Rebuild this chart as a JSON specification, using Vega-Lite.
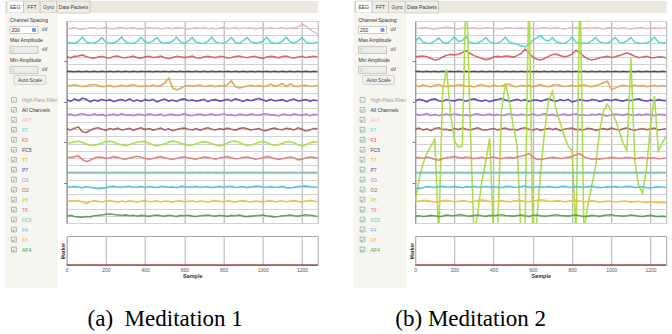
{
"$schema":"https://vega.github.io/schema/vega-lite/v6.json",
"padding":{"left":5,"top":0,"right":0,"bottom":0},
"background":"#ffffff",
"config":{"view":{"stroke":null},"font":"Liberation Sans","axis":{"labelFont":"Liberation Sans","titleFont":"Liberation Sans"}},
"datasets":{
"side":[
{"item":"cs","role":"label","text":"Channel Spacing"},
{"item":"max","role":"label","text":"Max Amplitude"},
{"item":"min","role":"label","text":"Min Amplitude"},
{"item":"csBox","role":"box","state":"on","text":"200"},
{"item":"maxBox","role":"box","state":"off","text":"0"},
{"item":"minBox","role":"box","state":"off","text":"0"},
{"item":"auto","role":"button","text":"Auto Scale"},
{"item":"hpf","role":"check","state":"off","text":"High-Pass Filter"},
{"item":"all","role":"check","state":"on","text":"All Channels"},
{"item":"AF3","role":"channel","ch":"AF3"},{"item":"F7","role":"channel","ch":"F7"},{"item":"F3","role":"channel","ch":"F3"},{"item":"FC5","role":"channel","ch":"FC5"},{"item":"T7","role":"channel","ch":"T7"},{"item":"P7","role":"channel","ch":"P7"},{"item":"O1","role":"channel","ch":"O1"},{"item":"O2","role":"channel","ch":"O2"},{"item":"P8","role":"channel","ch":"P8"},{"item":"T8","role":"channel","ch":"T8"},{"item":"FC6","role":"channel","ch":"FC6"},{"item":"F4","role":"channel","ch":"F4"},{"item":"F8","role":"channel","ch":"F8"},{"item":"AF4","role":"channel","ch":"AF4"}
],
"tabs":[
{"tab":"EEG","from":"e0","to":"t1","sel":true},
{"tab":"FFT","from":"t1","to":"t2","sel":false},
{"tab":"Gyro","from":"t2","to":"t3","sel":false},
{"tab":"Data Packets","from":"t3","to":"e9","sel":false}
],
"marker":[{"x":0,"m":0},{"x":1280,"m":0}],
"eegA":[
{"x":0,"AF3":2703,"F7":2495,"F3":2305,"FC5":2100,"T7":1892,"P7":1710,"O1":1495,"O2":1305,"P8":1100,"T8":900,"FC6":702,"F4":505,"F8":295,"AF4":95},
{"x":20,"AF3":2695,"F7":2500,"F3":2290,"FC5":2103,"T7":1905,"P7":1685,"O1":1508,"O2":1290,"P8":1112,"T8":910,"FC6":698,"F4":495,"F8":310,"AF4":105},
{"x":40,"AF3":2708,"F7":2490,"F3":2310,"FC5":2097,"T7":1915,"P7":1720,"O1":1488,"O2":1315,"P8":1125,"T8":920,"FC6":702,"F4":508,"F8":305,"AF4":90},
{"x":60,"AF3":2690,"F7":2520,"F3":2315,"FC5":2103,"T7":1905,"P7":1695,"O1":1505,"O2":1330,"P8":1132,"T8":930,"FC6":698,"F4":500,"F8":315,"AF4":85},
{"x":80,"AF3":2685,"F7":2575,"F3":2330,"FC5":2097,"T7":1890,"P7":1730,"O1":1515,"O2":1265,"P8":1118,"T8":880,"FC6":702,"F4":490,"F8":290,"AF4":80},
{"x":100,"AF3":2695,"F7":2510,"F3":2305,"FC5":2103,"T7":1900,"P7":1715,"O1":1500,"O2":1255,"P8":1095,"T8":850,"FC6":698,"F4":505,"F8":270,"AF4":90},
{"x":120,"AF3":2710,"F7":2492,"F3":2290,"FC5":2097,"T7":1912,"P7":1680,"O1":1490,"O2":1285,"P8":1078,"T8":870,"FC6":702,"F4":495,"F8":295,"AF4":85},
{"x":140,"AF3":2705,"F7":2495,"F3":2285,"FC5":2103,"T7":1920,"P7":1705,"O1":1512,"O2":1310,"P8":1075,"T8":900,"FC6":698,"F4":485,"F8":310,"AF4":100},
{"x":160,"AF3":2692,"F7":2520,"F3":2300,"FC5":2097,"T7":1905,"P7":1690,"O1":1495,"O2":1320,"P8":1092,"T8":915,"FC6":702,"F4":475,"F8":300,"AF4":105},
{"x":180,"AF3":2700,"F7":2570,"F3":2310,"FC5":2103,"T7":1890,"P7":1715,"O1":1505,"O2":1300,"P8":1110,"T8":910,"FC6":698,"F4":480,"F8":292,"AF4":110},
{"x":200,"AF3":2712,"F7":2505,"F3":2295,"FC5":2097,"T7":1895,"P7":1695,"O1":1485,"O2":1285,"P8":1128,"T8":895,"FC6":702,"F4":490,"F8":305,"AF4":122},
{"x":220,"AF3":2697,"F7":2490,"F3":2288,"FC5":2103,"T7":1908,"P7":1710,"O1":1500,"O2":1310,"P8":1135,"T8":905,"FC6":698,"F4":505,"F8":312,"AF4":125},
{"x":240,"AF3":2690,"F7":2497,"F3":2308,"FC5":2097,"T7":1888,"P7":1682,"O1":1510,"O2":1295,"P8":1120,"T8":920,"FC6":702,"F4":510,"F8":300,"AF4":118},
{"x":260,"AF3":2705,"F7":2522,"F3":2315,"FC5":2103,"T7":1900,"P7":1700,"O1":1492,"O2":1315,"P8":1098,"T8":910,"FC6":698,"F4":500,"F8":290,"AF4":110},
{"x":280,"AF3":2708,"F7":2578,"F3":2295,"FC5":2097,"T7":1910,"P7":1712,"O1":1515,"O2":1290,"P8":1085,"T8":890,"FC6":702,"F4":492,"F8":305,"AF4":105},
{"x":300,"AF3":2695,"F7":2508,"F3":2290,"FC5":2103,"T7":1895,"P7":1692,"O1":1495,"O2":1300,"P8":1072,"T8":885,"FC6":698,"F4":505,"F8":295,"AF4":112},
{"x":320,"AF3":2700,"F7":2494,"F3":2300,"FC5":2097,"T7":1905,"P7":1720,"O1":1500,"O2":1312,"P8":1085,"T8":900,"FC6":702,"F4":510,"F8":308,"AF4":100},
{"x":340,"AF3":2710,"F7":2490,"F3":2312,"FC5":2103,"T7":1915,"P7":1688,"O1":1488,"O2":1285,"P8":1105,"T8":915,"FC6":698,"F4":495,"F8":300,"AF4":108},
{"x":360,"AF3":2694,"F7":2518,"F3":2292,"FC5":2097,"T7":1900,"P7":1705,"O1":1508,"O2":1305,"P8":1122,"T8":925,"FC6":702,"F4":500,"F8":288,"AF4":95},
{"x":380,"AF3":2688,"F7":2572,"F3":2285,"FC5":2103,"T7":1890,"P7":1685,"O1":1505,"O2":1320,"P8":1130,"T8":910,"FC6":698,"F4":508,"F8":305,"AF4":105},
{"x":400,"AF3":2702,"F7":2512,"F3":2305,"FC5":2097,"T7":1905,"P7":1710,"O1":1490,"O2":1295,"P8":1125,"T8":895,"FC6":702,"F4":490,"F8":310,"AF4":100},
{"x":420,"AF3":2708,"F7":2495,"F3":2310,"FC5":2103,"T7":1892,"P7":1695,"O1":1512,"O2":1310,"P8":1105,"T8":885,"FC6":698,"F4":505,"F8":295,"AF4":92},
{"x":440,"AF3":2696,"F7":2525,"F3":2295,"FC5":2097,"T7":1910,"P7":1715,"O1":1500,"O2":1288,"P8":1085,"T8":895,"FC6":702,"F4":500,"F8":300,"AF4":105},
{"x":460,"AF3":2706,"F7":2570,"F3":2300,"FC5":2103,"T7":1895,"P7":1680,"O1":1495,"O2":1300,"P8":1068,"T8":910,"FC6":698,"F4":492,"F8":308,"AF4":110},
{"x":480,"AF3":2690,"F7":2505,"F3":2315,"FC5":2097,"T7":1905,"P7":1700,"O1":1510,"O2":1315,"P8":1080,"T8":920,"FC6":702,"F4":510,"F8":292,"AF4":100},
{"x":500,"AF3":2700,"F7":2492,"F3":2290,"FC5":2103,"T7":1940,"P7":1718,"O1":1485,"O2":1290,"P8":1100,"T8":905,"FC6":698,"F4":505,"F8":305,"AF4":95},
{"x":520,"AF3":2705,"F7":2500,"F3":2280,"FC5":2097,"T7":2010,"P7":1690,"O1":1505,"O2":1305,"P8":1120,"T8":890,"FC6":702,"F4":495,"F8":300,"AF4":108},
{"x":540,"AF3":2692,"F7":2520,"F3":2295,"FC5":2103,"T7":1870,"P7":1705,"O1":1508,"O2":1280,"P8":1135,"T8":880,"FC6":698,"F4":500,"F8":290,"AF4":100},
{"x":560,"AF3":2710,"F7":2576,"F3":2310,"FC5":2097,"T7":1845,"P7":1685,"O1":1492,"O2":1295,"P8":1125,"T8":895,"FC6":702,"F4":488,"F8":305,"AF4":90},
{"x":580,"AF3":2703,"F7":2510,"F3":2305,"FC5":2103,"T7":1865,"P7":1710,"O1":1500,"O2":1310,"P8":1105,"T8":910,"FC6":698,"F4":505,"F8":310,"AF4":105},
{"x":600,"AF3":2695,"F7":2490,"F3":2292,"FC5":2097,"T7":1895,"P7":1720,"O1":1515,"O2":1315,"P8":1090,"T8":915,"FC6":702,"F4":508,"F8":295,"AF4":100},
{"x":620,"AF3":2688,"F7":2522,"F3":2300,"FC5":2103,"T7":1910,"P7":1695,"O1":1495,"O2":1300,"P8":1075,"T8":905,"FC6":698,"F4":495,"F8":300,"AF4":108},
{"x":640,"AF3":2700,"F7":2568,"F3":2312,"FC5":2097,"T7":1895,"P7":1708,"O1":1488,"O2":1290,"P8":1080,"T8":892,"FC6":702,"F4":500,"F8":308,"AF4":95},
{"x":660,"AF3":2706,"F7":2506,"F3":2290,"FC5":2103,"T7":1905,"P7":1688,"O1":1505,"O2":1308,"P8":1100,"T8":885,"FC6":698,"F4":510,"F8":292,"AF4":90},
{"x":680,"AF3":2697,"F7":2495,"F3":2285,"FC5":2097,"T7":1912,"P7":1700,"O1":1510,"O2":1285,"P8":1115,"T8":900,"FC6":702,"F4":492,"F8":305,"AF4":100},
{"x":700,"AF3":2709,"F7":2490,"F3":2305,"FC5":2103,"T7":1892,"P7":1715,"O1":1492,"O2":1305,"P8":1128,"T8":915,"FC6":698,"F4":500,"F8":300,"AF4":105},
{"x":720,"AF3":2693,"F7":2518,"F3":2310,"FC5":2097,"T7":1900,"P7":1682,"O1":1500,"O2":1320,"P8":1120,"T8":910,"FC6":702,"F4":505,"F8":288,"AF4":110},
{"x":740,"AF3":2702,"F7":2574,"F3":2300,"FC5":2103,"T7":1908,"P7":1705,"O1":1512,"O2":1300,"P8":1100,"T8":895,"FC6":698,"F4":490,"F8":305,"AF4":100},
{"x":760,"AF3":2690,"F7":2508,"F3":2292,"FC5":2097,"T7":1890,"P7":1710,"O1":1490,"O2":1290,"P8":1080,"T8":885,"FC6":702,"F4":500,"F8":310,"AF4":95},
{"x":780,"AF3":2704,"F7":2496,"F3":2312,"FC5":2103,"T7":1905,"P7":1690,"O1":1505,"O2":1310,"P8":1070,"T8":900,"FC6":698,"F4":508,"F8":300,"AF4":108},
{"x":800,"AF3":2708,"F7":2492,"F3":2305,"FC5":2097,"T7":1895,"P7":1700,"O1":1515,"O2":1295,"P8":1085,"T8":912,"FC6":702,"F4":495,"F8":295,"AF4":100},
{"x":820,"AF3":2695,"F7":2520,"F3":2288,"FC5":2103,"T7":1915,"P7":1715,"O1":1495,"O2":1315,"P8":1110,"T8":920,"FC6":698,"F4":505,"F8":308,"AF4":92},
{"x":840,"AF3":2700,"F7":2572,"F3":2295,"FC5":2097,"T7":1970,"P7":1692,"O1":1500,"O2":1300,"P8":1130,"T8":905,"FC6":702,"F4":510,"F8":300,"AF4":105},
{"x":860,"AF3":2710,"F7":2505,"F3":2308,"FC5":2103,"T7":1890,"P7":1720,"O1":1488,"O2":1288,"P8":1135,"T8":890,"FC6":698,"F4":492,"F8":290,"AF4":100},
{"x":880,"AF3":2692,"F7":2490,"F3":2315,"FC5":2097,"T7":1872,"P7":1705,"O1":1508,"O2":1308,"P8":1115,"T8":895,"FC6":702,"F4":500,"F8":305,"AF4":110},
{"x":900,"AF3":2703,"F7":2524,"F3":2300,"FC5":2103,"T7":1885,"P7":1685,"O1":1505,"O2":1320,"P8":1095,"T8":910,"FC6":698,"F4":505,"F8":312,"AF4":95},
{"x":920,"AF3":2696,"F7":2570,"F3":2290,"FC5":2097,"T7":1900,"P7":1710,"O1":1490,"O2":1305,"P8":1075,"T8":915,"FC6":702,"F4":490,"F8":300,"AF4":88},
{"x":940,"AF3":2707,"F7":2510,"F3":2305,"FC5":2103,"T7":1910,"P7":1695,"O1":1512,"O2":1290,"P8":1080,"T8":900,"FC6":698,"F4":500,"F8":292,"AF4":95},
{"x":960,"AF3":2691,"F7":2494,"F3":2312,"FC5":2097,"T7":1895,"P7":1712,"O1":1500,"O2":1300,"P8":1100,"T8":885,"FC6":702,"F4":508,"F8":305,"AF4":100},
{"x":980,"AF3":2700,"F7":2497,"F3":2292,"FC5":2103,"T7":1905,"P7":1725,"O1":1492,"O2":1310,"P8":1120,"T8":890,"FC6":698,"F4":512,"F8":300,"AF4":105},
{"x":1000,"AF3":2705,"F7":2520,"F3":2285,"FC5":2097,"T7":1892,"P7":1705,"O1":1510,"O2":1285,"P8":1130,"T8":905,"FC6":702,"F4":500,"F8":290,"AF4":110},
{"x":1020,"AF3":2694,"F7":2575,"F3":2300,"FC5":2103,"T7":1900,"P7":1690,"O1":1515,"O2":1280,"P8":1115,"T8":920,"FC6":698,"F4":492,"F8":305,"AF4":100},
{"x":1040,"AF3":2710,"F7":2506,"F3":2310,"FC5":2097,"T7":1925,"P7":1715,"O1":1495,"O2":1305,"P8":1090,"T8":910,"FC6":702,"F4":505,"F8":310,"AF4":92},
{"x":1060,"AF3":2697,"F7":2492,"F3":2305,"FC5":2103,"T7":1895,"P7":1695,"O1":1500,"O2":1315,"P8":1075,"T8":895,"FC6":698,"F4":495,"F8":295,"AF4":85},
{"x":1080,"AF3":2700,"F7":2490,"F3":2290,"FC5":2097,"T7":1908,"P7":1700,"O1":1485,"O2":1300,"P8":1085,"T8":880,"FC6":702,"F4":500,"F8":300,"AF4":90},
{"x":1100,"AF3":2708,"F7":2522,"F3":2308,"FC5":2103,"T7":1930,"P7":1710,"O1":1508,"O2":1292,"P8":1105,"T8":890,"FC6":698,"F4":510,"F8":308,"AF4":100},
{"x":1120,"AF3":2690,"F7":2572,"F3":2315,"FC5":2097,"T7":1892,"P7":1685,"O1":1505,"O2":1312,"P8":1125,"T8":905,"FC6":702,"F4":490,"F8":292,"AF4":105},
{"x":1140,"AF3":2702,"F7":2508,"F3":2295,"FC5":2103,"T7":1928,"P7":1705,"O1":1490,"O2":1305,"P8":1130,"T8":915,"FC6":698,"F4":485,"F8":305,"AF4":110},
{"x":1160,"AF3":2706,"F7":2495,"F3":2288,"FC5":2097,"T7":1900,"P7":1718,"O1":1512,"O2":1290,"P8":1110,"T8":905,"FC6":702,"F4":495,"F8":312,"AF4":100},
{"x":1180,"AF3":2720,"F7":2525,"F3":2300,"FC5":2103,"T7":1890,"P7":1692,"O1":1500,"O2":1320,"P8":1085,"T8":875,"FC6":698,"F4":505,"F8":300,"AF4":95},
{"x":1200,"AF3":2755,"F7":2570,"F3":2310,"FC5":2097,"T7":1905,"P7":1700,"O1":1495,"O2":1300,"P8":1070,"T8":885,"FC6":702,"F4":510,"F8":290,"AF4":105},
{"x":1220,"AF3":2730,"F7":2510,"F3":2292,"FC5":2103,"T7":1910,"P7":1712,"O1":1510,"O2":1275,"P8":1085,"T8":905,"FC6":698,"F4":515,"F8":305,"AF4":115},
{"x":1240,"AF3":2685,"F7":2492,"F3":2305,"FC5":2097,"T7":1895,"P7":1690,"O1":1488,"O2":1290,"P8":1110,"T8":915,"FC6":702,"F4":505,"F8":315,"AF4":108},
{"x":1260,"AF3":2650,"F7":2495,"F3":2312,"FC5":2103,"T7":1900,"P7":1705,"O1":1505,"O2":1310,"P8":1125,"T8":910,"FC6":698,"F4":495,"F8":305,"AF4":100},
{"x":1280,"AF3":2615,"F7":2505,"F3":2300,"FC5":2097,"T7":1908,"P7":1695,"O1":1500,"O2":1305,"P8":1115,"T8":900,"FC6":702,"F4":500,"F8":295,"AF4":90}
],
"eegB":[
{"x":0,"AF3":2695,"F7":2520,"F3":2300,"FC5":2100,"T7":1905,"P7":1690,"O1":1510,"O2":1300,"P8":305,"T8":900,"FC6":702,"F4":485,"F8":295,"AF4":95},
{"x":20,"AF3":2700,"F7":2570,"F3":2310,"FC5":2103,"T7":1890,"P7":1715,"O1":1495,"O2":1315,"P8":610,"T8":910,"FC6":698,"F4":475,"F8":305,"AF4":100},
{"x":40,"AF3":2708,"F7":2510,"F3":2315,"FC5":2097,"T7":1915,"P7":1700,"O1":1500,"O2":1290,"P8":818,"T8":895,"FC6":702,"F4":490,"F8":315,"AF4":90},
{"x":60,"AF3":2705,"F7":2495,"F3":2305,"FC5":2103,"T7":1900,"P7":1680,"O1":1515,"O2":1305,"P8":970,"T8":915,"FC6":698,"F4":505,"F8":310,"AF4":95},
{"x":80,"AF3":2692,"F7":2490,"F3":2280,"FC5":2097,"T7":1885,"P7":1710,"O1":1490,"O2":1280,"P8":1067,"T8":905,"FC6":702,"F4":500,"F8":300,"AF4":105},
{"x":100,"AF3":2688,"F7":2520,"F3":2260,"FC5":2103,"T7":1910,"P7":1720,"O1":1505,"O2":1310,"P8":1164,"T8":880,"FC6":698,"F4":492,"F8":290,"AF4":100},
{"x":120,"AF3":2700,"F7":2565,"F3":2270,"FC5":2097,"T7":1920,"P7":1695,"O1":1488,"O2":1320,"P8":-180,"T8":870,"FC6":702,"F4":505,"F8":295,"AF4":90},
{"x":140,"AF3":2710,"F7":2505,"F3":2300,"FC5":2103,"T7":1900,"P7":1685,"O1":1500,"O2":1295,"P8":1830,"T8":890,"FC6":698,"F4":510,"F8":310,"AF4":95},
{"x":160,"AF3":2715,"F7":2490,"F3":2325,"FC5":2097,"T7":1890,"P7":1710,"O1":1510,"O2":1300,"P8":2134,"T8":905,"FC6":702,"F4":500,"F8":315,"AF4":110},
{"x":180,"AF3":2705,"F7":2525,"F3":2335,"FC5":2103,"T7":1905,"P7":1700,"O1":1495,"O2":1285,"P8":1524,"T8":915,"FC6":698,"F4":495,"F8":305,"AF4":105},
{"x":200,"AF3":2695,"F7":2580,"F3":2330,"FC5":2097,"T7":1895,"P7":1690,"O1":1515,"O2":1310,"P8":1137,"T8":920,"FC6":702,"F4":508,"F8":295,"AF4":100},
{"x":220,"AF3":2690,"F7":2515,"F3":2340,"FC5":2103,"T7":1915,"P7":1715,"O1":1505,"O2":1295,"P8":1053,"T8":910,"FC6":698,"F4":500,"F8":300,"AF4":115},
{"x":240,"AF3":2700,"F7":2530,"F3":2360,"FC5":2097,"T7":1910,"P7":1705,"O1":1490,"O2":1315,"P8":1067,"T8":900,"FC6":702,"F4":490,"F8":310,"AF4":110},
{"x":260,"AF3":2708,"F7":2575,"F3":2390,"FC5":2103,"T7":1892,"P7":1688,"O1":1500,"O2":1300,"P8":3354,"T8":915,"FC6":698,"F4":505,"F8":305,"AF4":100},
{"x":280,"AF3":2696,"F7":2500,"F3":2350,"FC5":2097,"T7":1900,"P7":1708,"O1":1485,"O2":1290,"P8":1414,"T8":905,"FC6":702,"F4":500,"F8":292,"AF4":95},
{"x":300,"AF3":2705,"F7":2490,"F3":2320,"FC5":2103,"T7":1885,"P7":1720,"O1":1508,"O2":1305,"P8":-180,"T8":890,"FC6":698,"F4":510,"F8":300,"AF4":105},
{"x":320,"AF3":2692,"F7":2495,"F3":2300,"FC5":2097,"T7":1905,"P7":1700,"O1":1512,"O2":1320,"P8":166,"T8":900,"FC6":702,"F4":495,"F8":312,"AF4":110},
{"x":340,"AF3":2700,"F7":2525,"F3":2280,"FC5":2103,"T7":1920,"P7":1690,"O1":1495,"O2":1292,"P8":582,"T8":910,"FC6":698,"F4":500,"F8":320,"AF4":100},
{"x":360,"AF3":2710,"F7":2570,"F3":2265,"FC5":2097,"T7":1900,"P7":1705,"O1":1500,"O2":1285,"P8":859,"T8":895,"FC6":702,"F4":508,"F8":310,"AF4":92},
{"x":380,"AF3":2704,"F7":2510,"F3":2275,"FC5":2103,"T7":1890,"P7":1682,"O1":1510,"O2":1300,"P8":1178,"T8":905,"FC6":698,"F4":492,"F8":300,"AF4":105},
{"x":400,"AF3":2694,"F7":2492,"F3":2300,"FC5":2097,"T7":1912,"P7":1700,"O1":1492,"O2":1310,"P8":-250,"T8":915,"FC6":702,"F4":505,"F8":295,"AF4":100},
{"x":420,"AF3":2700,"F7":2495,"F3":2310,"FC5":2103,"T7":1895,"P7":1712,"O1":1505,"O2":1290,"P8":-111,"T8":900,"FC6":698,"F4":500,"F8":305,"AF4":108},
{"x":440,"AF3":2690,"F7":2520,"F3":2305,"FC5":2097,"T7":1900,"P7":1725,"O1":1488,"O2":1305,"P8":1552,"T8":890,"FC6":702,"F4":490,"F8":310,"AF4":115},
{"x":460,"AF3":2705,"F7":2575,"F3":2315,"FC5":2103,"T7":1915,"P7":1705,"O1":1500,"O2":1315,"P8":1940,"T8":905,"FC6":698,"F4":505,"F8":300,"AF4":105},
{"x":480,"AF3":2710,"F7":2505,"F3":2310,"FC5":2097,"T7":1925,"P7":1690,"O1":1515,"O2":1295,"P8":1691,"T8":910,"FC6":702,"F4":510,"F8":292,"AF4":100},
{"x":500,"AF3":2700,"F7":2490,"F3":2300,"FC5":2103,"T7":1895,"P7":1700,"O1":1505,"O2":1300,"P8":1344,"T8":900,"FC6":698,"F4":500,"F8":305,"AF4":95},
{"x":520,"AF3":2695,"F7":2480,"F3":2320,"FC5":2097,"T7":1890,"P7":1715,"O1":1490,"O2":1288,"P8":1067,"T8":915,"FC6":702,"F4":495,"F8":315,"AF4":105},
{"x":540,"AF3":2708,"F7":2455,"F3":2350,"FC5":2103,"T7":1905,"P7":1695,"O1":1508,"O2":1310,"P8":-180,"T8":925,"FC6":698,"F4":505,"F8":310,"AF4":110},
{"x":560,"AF3":2692,"F7":2440,"F3":2410,"FC5":2097,"T7":1900,"P7":1710,"O1":1500,"O2":1320,"P8":-111,"T8":940,"FC6":702,"F4":512,"F8":300,"AF4":100},
{"x":580,"AF3":2700,"F7":2480,"F3":2360,"FC5":2103,"T7":1910,"P7":1685,"O1":1495,"O2":1300,"P8":3354,"T8":965,"FC6":698,"F4":500,"F8":295,"AF4":92},
{"x":600,"AF3":2705,"F7":2530,"F3":2300,"FC5":2097,"T7":1888,"P7":1700,"O1":1512,"O2":1290,"P8":-250,"T8":910,"FC6":702,"F4":492,"F8":305,"AF4":105},
{"x":620,"AF3":2690,"F7":2570,"F3":2270,"FC5":2103,"T7":1905,"P7":1708,"O1":1490,"O2":1305,"P8":28,"T8":885,"FC6":698,"F4":505,"F8":312,"AF4":110},
{"x":640,"AF3":2703,"F7":2600,"F3":2260,"FC5":2097,"T7":1915,"P7":1690,"O1":1500,"O2":1285,"P8":721,"T8":880,"FC6":702,"F4":500,"F8":320,"AF4":100},
{"x":660,"AF3":2710,"F7":2540,"F3":2280,"FC5":2103,"T7":1900,"P7":1705,"O1":1515,"O2":1300,"P8":1275,"T8":890,"FC6":698,"F4":495,"F8":315,"AF4":95},
{"x":680,"AF3":2700,"F7":2520,"F3":2310,"FC5":2097,"T7":1890,"P7":1720,"O1":1495,"O2":1312,"P8":1691,"T8":900,"FC6":702,"F4":508,"F8":305,"AF4":100},
{"x":700,"AF3":2695,"F7":2570,"F3":2335,"FC5":2103,"T7":1908,"P7":1700,"O1":1505,"O2":1295,"P8":1830,"T8":910,"FC6":698,"F4":500,"F8":300,"AF4":108},
{"x":720,"AF3":2708,"F7":2510,"F3":2340,"FC5":2097,"T7":1920,"P7":1688,"O1":1488,"O2":1308,"P8":1552,"T8":905,"FC6":702,"F4":490,"F8":310,"AF4":115},
{"x":740,"AF3":2697,"F7":2495,"F3":2320,"FC5":2103,"T7":1905,"P7":1710,"O1":1500,"O2":1280,"P8":1386,"T8":895,"FC6":698,"F4":505,"F8":305,"AF4":105},
{"x":760,"AF3":2690,"F7":2490,"F3":2305,"FC5":2097,"T7":1892,"P7":1695,"O1":1510,"O2":1300,"P8":1206,"T8":900,"FC6":702,"F4":510,"F8":295,"AF4":100},
{"x":780,"AF3":2700,"F7":2520,"F3":2315,"FC5":2103,"T7":1900,"P7":1715,"O1":1492,"O2":1310,"P8":1067,"T8":910,"FC6":698,"F4":500,"F8":300,"AF4":95},
{"x":800,"AF3":2706,"F7":2575,"F3":2340,"FC5":2097,"T7":1910,"P7":1680,"O1":1505,"O2":1315,"P8":998,"T8":920,"FC6":702,"F4":495,"F8":310,"AF4":105},
{"x":820,"AF3":2710,"F7":2505,"F3":2395,"FC5":2103,"T7":1895,"P7":1695,"O1":1515,"O2":1295,"P8":-180,"T8":945,"FC6":698,"F4":508,"F8":315,"AF4":110},
{"x":840,"AF3":2695,"F7":2490,"F3":2360,"FC5":2097,"T7":1905,"P7":1710,"O1":1495,"O2":1300,"P8":3354,"T8":960,"FC6":702,"F4":500,"F8":305,"AF4":100},
{"x":860,"AF3":2700,"F7":2495,"F3":2310,"FC5":2103,"T7":1915,"P7":1700,"O1":1500,"O2":1290,"P8":-111,"T8":920,"FC6":698,"F4":492,"F8":295,"AF4":90},
{"x":880,"AF3":2708,"F7":2492,"F3":2275,"FC5":2097,"T7":1900,"P7":1692,"O1":1490,"O2":1312,"P8":236,"T8":900,"FC6":702,"F4":505,"F8":300,"AF4":95},
{"x":900,"AF3":2692,"F7":2525,"F3":2260,"FC5":2103,"T7":1890,"P7":1712,"O1":1508,"O2":1305,"P8":513,"T8":885,"FC6":698,"F4":510,"F8":308,"AF4":105},
{"x":920,"AF3":2704,"F7":2570,"F3":2270,"FC5":2097,"T7":1905,"P7":1705,"O1":1500,"O2":1285,"P8":790,"T8":890,"FC6":702,"F4":500,"F8":300,"AF4":100},
{"x":940,"AF3":2700,"F7":2510,"F3":2290,"FC5":2103,"T7":1920,"P7":1685,"O1":1512,"O2":1300,"P8":1275,"T8":885,"FC6":698,"F4":490,"F8":290,"AF4":92},
{"x":960,"AF3":2690,"F7":2495,"F3":2300,"FC5":2097,"T7":1945,"P7":1700,"O1":1495,"O2":1310,"P8":1552,"T8":895,"FC6":702,"F4":495,"F8":295,"AF4":105},
{"x":980,"AF3":2705,"F7":2490,"F3":2310,"FC5":2103,"T7":1965,"P7":1710,"O1":1485,"O2":1295,"P8":1649,"T8":900,"FC6":698,"F4":505,"F8":305,"AF4":110},
{"x":1000,"AF3":2710,"F7":2520,"F3":2295,"FC5":2097,"T7":1855,"P7":1695,"O1":1500,"O2":1315,"P8":1552,"T8":910,"FC6":702,"F4":500,"F8":300,"AF4":115},
{"x":1020,"AF3":2700,"F7":2572,"F3":2305,"FC5":2103,"T7":1870,"P7":1715,"O1":1510,"O2":1300,"P8":1441,"T8":905,"FC6":698,"F4":508,"F8":292,"AF4":105},
{"x":1040,"AF3":2695,"F7":2508,"F3":2320,"FC5":2097,"T7":1895,"P7":1700,"O1":1505,"O2":1290,"P8":1275,"T8":895,"FC6":702,"F4":495,"F8":295,"AF4":100},
{"x":1060,"AF3":2708,"F7":2495,"F3":2340,"FC5":2103,"T7":1910,"P7":1690,"O1":1492,"O2":1305,"P8":1109,"T8":900,"FC6":698,"F4":500,"F8":305,"AF4":95},
{"x":1080,"AF3":2697,"F7":2525,"F3":2360,"FC5":2097,"T7":1900,"P7":1708,"O1":1512,"O2":1320,"P8":998,"T8":910,"FC6":702,"F4":510,"F8":300,"AF4":100},
{"x":1100,"AF3":2690,"F7":2570,"F3":2335,"FC5":2103,"T7":1892,"P7":1695,"O1":1500,"O2":1295,"P8":2287,"T8":905,"FC6":698,"F4":505,"F8":290,"AF4":110},
{"x":1120,"AF3":2700,"F7":2505,"F3":2310,"FC5":2097,"T7":1912,"P7":1712,"O1":1490,"O2":1285,"P8":859,"T8":892,"FC6":702,"F4":492,"F8":295,"AF4":105},
{"x":1140,"AF3":2705,"F7":2490,"F3":2295,"FC5":2103,"T7":1900,"P7":1720,"O1":1505,"O2":1300,"P8":513,"T8":900,"FC6":698,"F4":500,"F8":300,"AF4":95},
{"x":1160,"AF3":2710,"F7":2492,"F3":2300,"FC5":2097,"T7":1905,"P7":1700,"O1":1495,"O2":1310,"P8":416,"T8":910,"FC6":702,"F4":505,"F8":290,"AF4":90},
{"x":1180,"AF3":2695,"F7":2495,"F3":2310,"FC5":2103,"T7":1890,"P7":1688,"O1":1510,"O2":1292,"P8":762,"T8":895,"FC6":698,"F4":490,"F8":285,"AF4":100},
{"x":1200,"AF3":2700,"F7":2520,"F3":2295,"FC5":2097,"T7":1900,"P7":1705,"O1":1500,"O2":1305,"P8":1344,"T8":905,"FC6":702,"F4":485,"F8":295,"AF4":105},
{"x":1220,"AF3":2708,"F7":2575,"F3":2290,"FC5":2103,"T7":1910,"P7":1692,"O1":1488,"O2":1315,"P8":1760,"T8":900,"FC6":698,"F4":495,"F8":290,"AF4":95},
{"x":1240,"AF3":2694,"F7":2510,"F3":2305,"FC5":2097,"T7":1895,"P7":1710,"O1":1508,"O2":1290,"P8":998,"T8":890,"FC6":702,"F4":505,"F8":280,"AF4":90},
{"x":1260,"AF3":2700,"F7":2495,"F3":2300,"FC5":2103,"T7":1905,"P7":1700,"O1":1505,"O2":1300,"P8":1109,"T8":895,"FC6":698,"F4":500,"F8":285,"AF4":95},
{"x":1280,"AF3":2705,"F7":2500,"F3":2290,"FC5":2097,"T7":1895,"P7":1695,"O1":1495,"O2":1305,"P8":1206,"T8":905,"FC6":702,"F4":492,"F8":280,"AF4":90}
]
},
"spacing":31.5,
"hconcat":[
{
"bounds":"flush","spacing":0,
"title":{"text":"(a)\u00a0 Meditation 1","orient":"bottom","anchor":"middle","font":"Liberation Serif","fontSize":23,"fontWeight":"normal","color":"#000000","offset":20,"dx":2},
"vconcat":[
{"width":313,"height":12,"view":{"fill":"#ebe9df","stroke":null},"data":{"name":"tabs"},
 "layer":[
  {"mark":{"type":"rect","stroke":"#b8b6aa","strokeWidth":0.6},
   "encoding":{"x":{"field":"from","type":"ordinal","scale":{"type":"point","padding":0,"domain":["e0","EEG","t1","FFT","t2","Gyro","t3","t4","Data Packets","t5","e9"],"range":[2,85]},"axis":null},"x2":{"field":"to"},
   "fill":{"condition":{"test":"datum.sel","value":"#ffffff"},"value":"#efeee6"}}},
  {"mark":{"type":"text","fontSize":5,"color":"#333333","baseline":"middle","align":"center"},
   "encoding":{"x":{"field":"tab","type":"ordinal","scale":{"type":"point","padding":0,"domain":["e0","EEG","t1","FFT","t2","Gyro","t3","t4","Data Packets","t5","e9"],"range":[2,85]},"axis":null},"text":{"field":"tab"}}}
 ]},
{"bounds":"flush","spacing":8.7,
 "hconcat":[
 {"width":53,"height":275,"view":{"fill":"#f6f5ef","stroke":null},"data":{"name":"side"},
  "encoding":{"y":{"field":"item","type":"ordinal","scale":{"type":"point","padding":0,"domain":["cs","csBox","max","maxBox","min","minBox","auto","gap","hpf","all","AF3","F7","F3","FC5","T7","P7","O1","O2","P8","T8","FC6","F4","F8","AF4"],"range":[7,236.5]},"axis":null}},
  "layer":[
   {"transform":[{"filter":"datum.role==='box'"}],"mark":{"type":"rect","height":7,"stroke":"#a9a9a9","strokeWidth":0.6},
    "encoding":{"x":{"datum":"field","type":"ordinal","scale":{"type":"point","padding":0,"domain":["field","check","g1","name","g2","button","spin","fieldEnd","unit","buttonEnd","g3"],"range":[5,45]},"axis":null},"x2":{"datum":"fieldEnd"},
    "fill":{"condition":{"test":"datum.state==='on'","value":"#ffffff"},"value":"#ececea"}}},
   {"transform":[{"filter":"datum.item==='csBox'"}],"mark":{"type":"square","size":14,"filled":true,"color":"#6f93d9","opacity":1},
    "encoding":{"x":{"datum":"spin","type":"ordinal","scale":{"type":"point","padding":0,"domain":["field","check","g1","name","g2","button","spin","fieldEnd","unit","buttonEnd","g3"],"range":[5,45]},"axis":null}}},
   {"transform":[{"filter":"datum.role==='box'"}],"mark":{"type":"text","fontSize":5,"align":"left","baseline":"middle","dx":1.5},
    "encoding":{"x":{"datum":"field","type":"ordinal","scale":{"type":"point","padding":0,"domain":["field","check","g1","name","g2","button","spin","fieldEnd","unit","buttonEnd","g3"],"range":[5,45]},"axis":null},"text":{"field":"text"},
    "color":{"condition":{"test":"datum.state==='on'","value":"#222222"},"value":"#c8c8c8"}}},
   {"transform":[{"filter":"datum.role==='box'"}],"mark":{"type":"text","text":"uV","fontSize":4.5,"align":"left","baseline":"middle","color":"#333333"},
    "encoding":{"x":{"datum":"unit","type":"ordinal","scale":{"type":"point","padding":0,"domain":["field","check","g1","name","g2","button","spin","fieldEnd","unit","buttonEnd","g3"],"range":[5,45]},"axis":null}}},
   {"transform":[{"filter":"datum.role==='button'"}],"mark":{"type":"rect","height":9,"fill":"#f2f1ec","stroke":"#b8b8b8","strokeWidth":0.6,"cornerRadius":1},
    "encoding":{"x":{"datum":"check","type":"ordinal","scale":{"type":"point","padding":0,"domain":["field","check","g1","name","g2","button","spin","fieldEnd","unit","buttonEnd","g3"],"range":[5,45]},"axis":null},"x2":{"datum":"buttonEnd"}}},
   {"transform":[{"filter":"datum.role==='button'"}],"mark":{"type":"text","fontSize":5,"align":"center","baseline":"middle","color":"#444444"},
    "encoding":{"x":{"datum":"button","type":"ordinal","scale":{"type":"point","padding":0,"domain":["field","check","g1","name","g2","button","spin","fieldEnd","unit","buttonEnd","g3"],"range":[5,45]},"axis":null},"text":{"field":"text"}}},
   {"transform":[{"filter":"datum.role==='label'"}],"mark":{"type":"text","fontSize":5,"align":"left","baseline":"middle","color":"#333333"},
    "encoding":{"x":{"datum":"field","type":"ordinal","scale":{"type":"point","padding":0,"domain":["field","check","g1","name","g2","button","spin","fieldEnd","unit","buttonEnd","g3"],"range":[5,45]},"axis":null},"text":{"field":"text"}}},
   {"transform":[{"filter":"datum.role==='check' || datum.role==='channel'"}],"mark":{"type":"square","size":22,"filled":true,"fill":"#ffffff","stroke":"#7f9a9a","strokeWidth":0.7,"opacity":1},
    "encoding":{"x":{"datum":"check","type":"ordinal","scale":{"type":"point","padding":0,"domain":["field","check","g1","name","g2","button","spin","fieldEnd","unit","buttonEnd","g3"],"range":[5,45]},"axis":null}}},
   {"transform":[{"filter":"datum.role==='check' || datum.role==='channel'"}],"mark":{"type":"text","text":"✓","font":"DejaVu Sans","fontWeight":"bold","fontSize":5.5,"align":"center","baseline":"middle"},
    "encoding":{"x":{"datum":"check","type":"ordinal","scale":{"type":"point","padding":0,"domain":["field","check","g1","name","g2","button","spin","fieldEnd","unit","buttonEnd","g3"],"range":[5,45]},"axis":null},
    "color":{"condition":{"test":"datum.state==='off'","value":"#b5c9b5"},"value":"#2f8f3a"}}},
   {"transform":[{"filter":"datum.role==='check'"}],"mark":{"type":"text","fontSize":5,"align":"left","baseline":"middle"},
    "encoding":{"x":{"datum":"name","type":"ordinal","scale":{"type":"point","padding":0,"domain":["field","check","g1","name","g2","button","spin","fieldEnd","unit","buttonEnd","g3"],"range":[5,45]},"axis":null},"text":{"field":"text"},
    "color":{"condition":{"test":"datum.state==='off'","value":"#a0a0a0"},"value":"#333333"}}},
   {"transform":[{"filter":"datum.role==='channel'"}],"mark":{"type":"text","fontSize":5,"align":"left","baseline":"middle"},
    "encoding":{"x":{"datum":"name","type":"ordinal","scale":{"type":"point","padding":0,"domain":["field","check","g1","name","g2","button","spin","fieldEnd","unit","buttonEnd","g3"],"range":[5,45]},"axis":null},"text":{"field":"ch"},
    "color":{"field":"ch","type":"nominal","scale":{"domain":["AF3","F7","F3","FC5","T7","P7","O1","O2","P8","T8","FC6","F4","F8","AF4"],"range":["#e9b3cc","#55d0cc","#d65a5a","#404040","#e5a23c","#4848c4","#a97ad8","#a8585a","#a6dc3c","#e27b7b","#7fbdb4","#54bce4","#ecc045","#4f9e4f"]},"legend":null}}}
  ]},
 {"bounds":"flush","spacing":7,
  "vconcat":[
   {"width":251,"height":1,"data":{"values":[{"a":1}]},"mark":{"type":"text","text":""},"encoding":{}},
   {"bounds":"flush","spacing":13,
    "vconcat":[
     {"width":251,"height":202,"view":{"stroke":"#b0b0b0"},"data":{"name":"eegA"},
      "transform":[{"fold":["AF3","F7","F3","FC5","T7","P7","O1","O2","P8","T8","FC6","F4","F8","AF4"],"as":["ch","v"]}],
      "mark":{"type":"line","strokeWidth":1.6,"clip":true,"opacity":0.92},
      "encoding":{
       "x":{"field":"x","type":"quantitative","scale":{"domain":[0,1280],"nice":false,"zero":false},"axis":{"title":null,"labels":false,"ticks":false,"domain":false,"grid":true,"values":[0,200,400,600,800,1000,1200],"gridColor":"#a8a8a8","gridWidth":1}},
       "y":{"field":"v","type":"quantitative","scale":{"domain":[0,2800],"nice":false,"zero":false},"axis":{"title":null,"labels":false,"domain":true,"domainColor":"#999999","grid":true,"values":[0,100,200,300,400,500,600,700,800,900,1000,1100,1200,1300,1400,1500,1600,1700,1800,1900,2000,2100,2200,2300,2400,2500,2600,2700,2800,560,1120,1680,2240],"gridColor":"#d2d2d2","gridOpacity":{"condition":{"test":"datum.value % 100 === 0","value":1},"value":0},"ticks":true,"tickSize":3,"tickColor":"#777777","tickOpacity":{"condition":{"test":"datum.value % 100 === 0","value":0},"value":1}}},
       "color":{"field":"ch","type":"nominal","scale":{"domain":["AF3","F7","F3","FC5","T7","P7","O1","O2","P8","T8","FC6","F4","F8","AF4"],"range":["#e9b3cc","#55d0cc","#d65a5a","#404040","#e5a23c","#4848c4","#a97ad8","#a8585a","#a6dc3c","#e27b7b","#7fbdb4","#54bce4","#ecc045","#4f9e4f"]},"legend":null}
      }},
     {"width":251,"height":29,"view":{"stroke":"#a8a8a8"},"data":{"name":"marker"},
      "mark":{"type":"line","strokeWidth":1.6,"color":"#9c4b4b"},
      "encoding":{
       "x":{"field":"x","type":"quantitative","scale":{"domain":[0,1280],"nice":false},"axis":{"title":"Sample","values":[0,200,400,600,800,1000,1200],"format":"d","grid":true,"gridColor":"#b5b5b5","labelFontSize":5,"labelColor":"#555555","labelFlush":false,"ticks":false,"domain":false,"labelPadding":2,"titleFontSize":5.5,"titleFontWeight":"bold","titleColor":"#333333","titlePadding":1}},
       "y":{"field":"m","type":"quantitative","scale":{"domain":[0,10]},"axis":{"title":"Marker","labels":false,"ticks":false,"grid":false,"domain":false,"titleFontSize":5,"titleFontWeight":"bold","titleColor":"#333333","titlePadding":1}}
      }}
    ]}
  ]}
 ]}
]
},
{
"bounds":"flush","spacing":0,
"title":{"text":"(b) Meditation 2","orient":"bottom","anchor":"middle","font":"Liberation Serif","fontSize":23,"fontWeight":"normal","color":"#000000","offset":20,"dx":-41},
"vconcat":[
{"width":313,"height":12,"view":{"fill":"#ebe9df","stroke":null},"data":{"name":"tabs"},
 "layer":[
  {"mark":{"type":"rect","stroke":"#b8b6aa","strokeWidth":0.6},
   "encoding":{"x":{"field":"from","type":"ordinal","scale":{"type":"point","padding":0,"domain":["e0","EEG","t1","FFT","t2","Gyro","t3","t4","Data Packets","t5","e9"],"range":[2,85]},"axis":null},"x2":{"field":"to"},
   "fill":{"condition":{"test":"datum.sel","value":"#ffffff"},"value":"#efeee6"}}},
  {"mark":{"type":"text","fontSize":5,"color":"#333333","baseline":"middle","align":"center"},
   "encoding":{"x":{"field":"tab","type":"ordinal","scale":{"type":"point","padding":0,"domain":["e0","EEG","t1","FFT","t2","Gyro","t3","t4","Data Packets","t5","e9"],"range":[2,85]},"axis":null},"text":{"field":"tab"}}}
 ]},
{"bounds":"flush","spacing":8.7,
 "hconcat":[
 {"width":53,"height":275,"view":{"fill":"#f6f5ef","stroke":null},"data":{"name":"side"},
  "encoding":{"y":{"field":"item","type":"ordinal","scale":{"type":"point","padding":0,"domain":["cs","csBox","max","maxBox","min","minBox","auto","gap","hpf","all","AF3","F7","F3","FC5","T7","P7","O1","O2","P8","T8","FC6","F4","F8","AF4"],"range":[7,236.5]},"axis":null}},
  "layer":[
   {"transform":[{"filter":"datum.role==='box'"}],"mark":{"type":"rect","height":7,"stroke":"#a9a9a9","strokeWidth":0.6},
    "encoding":{"x":{"datum":"field","type":"ordinal","scale":{"type":"point","padding":0,"domain":["field","check","g1","name","g2","button","spin","fieldEnd","unit","buttonEnd","g3"],"range":[5,45]},"axis":null},"x2":{"datum":"fieldEnd"},
    "fill":{"condition":{"test":"datum.state==='on'","value":"#ffffff"},"value":"#ececea"}}},
   {"transform":[{"filter":"datum.item==='csBox'"}],"mark":{"type":"square","size":14,"filled":true,"color":"#6f93d9","opacity":1},
    "encoding":{"x":{"datum":"spin","type":"ordinal","scale":{"type":"point","padding":0,"domain":["field","check","g1","name","g2","button","spin","fieldEnd","unit","buttonEnd","g3"],"range":[5,45]},"axis":null}}},
   {"transform":[{"filter":"datum.role==='box'"}],"mark":{"type":"text","fontSize":5,"align":"left","baseline":"middle","dx":1.5},
    "encoding":{"x":{"datum":"field","type":"ordinal","scale":{"type":"point","padding":0,"domain":["field","check","g1","name","g2","button","spin","fieldEnd","unit","buttonEnd","g3"],"range":[5,45]},"axis":null},"text":{"field":"text"},
    "color":{"condition":{"test":"datum.state==='on'","value":"#222222"},"value":"#c8c8c8"}}},
   {"transform":[{"filter":"datum.role==='box'"}],"mark":{"type":"text","text":"uV","fontSize":4.5,"align":"left","baseline":"middle","color":"#333333"},
    "encoding":{"x":{"datum":"unit","type":"ordinal","scale":{"type":"point","padding":0,"domain":["field","check","g1","name","g2","button","spin","fieldEnd","unit","buttonEnd","g3"],"range":[5,45]},"axis":null}}},
   {"transform":[{"filter":"datum.role==='button'"}],"mark":{"type":"rect","height":9,"fill":"#f2f1ec","stroke":"#b8b8b8","strokeWidth":0.6,"cornerRadius":1},
    "encoding":{"x":{"datum":"check","type":"ordinal","scale":{"type":"point","padding":0,"domain":["field","check","g1","name","g2","button","spin","fieldEnd","unit","buttonEnd","g3"],"range":[5,45]},"axis":null},"x2":{"datum":"buttonEnd"}}},
   {"transform":[{"filter":"datum.role==='button'"}],"mark":{"type":"text","fontSize":5,"align":"center","baseline":"middle","color":"#444444"},
    "encoding":{"x":{"datum":"button","type":"ordinal","scale":{"type":"point","padding":0,"domain":["field","check","g1","name","g2","button","spin","fieldEnd","unit","buttonEnd","g3"],"range":[5,45]},"axis":null},"text":{"field":"text"}}},
   {"transform":[{"filter":"datum.role==='label'"}],"mark":{"type":"text","fontSize":5,"align":"left","baseline":"middle","color":"#333333"},
    "encoding":{"x":{"datum":"field","type":"ordinal","scale":{"type":"point","padding":0,"domain":["field","check","g1","name","g2","button","spin","fieldEnd","unit","buttonEnd","g3"],"range":[5,45]},"axis":null},"text":{"field":"text"}}},
   {"transform":[{"filter":"datum.role==='check' || datum.role==='channel'"}],"mark":{"type":"square","size":22,"filled":true,"fill":"#ffffff","stroke":"#7f9a9a","strokeWidth":0.7,"opacity":1},
    "encoding":{"x":{"datum":"check","type":"ordinal","scale":{"type":"point","padding":0,"domain":["field","check","g1","name","g2","button","spin","fieldEnd","unit","buttonEnd","g3"],"range":[5,45]},"axis":null}}},
   {"transform":[{"filter":"datum.role==='check' || datum.role==='channel'"}],"mark":{"type":"text","text":"✓","font":"DejaVu Sans","fontWeight":"bold","fontSize":5.5,"align":"center","baseline":"middle"},
    "encoding":{"x":{"datum":"check","type":"ordinal","scale":{"type":"point","padding":0,"domain":["field","check","g1","name","g2","button","spin","fieldEnd","unit","buttonEnd","g3"],"range":[5,45]},"axis":null},
    "color":{"condition":{"test":"datum.state==='off'","value":"#b5c9b5"},"value":"#2f8f3a"}}},
   {"transform":[{"filter":"datum.role==='check'"}],"mark":{"type":"text","fontSize":5,"align":"left","baseline":"middle"},
    "encoding":{"x":{"datum":"name","type":"ordinal","scale":{"type":"point","padding":0,"domain":["field","check","g1","name","g2","button","spin","fieldEnd","unit","buttonEnd","g3"],"range":[5,45]},"axis":null},"text":{"field":"text"},
    "color":{"condition":{"test":"datum.state==='off'","value":"#a0a0a0"},"value":"#333333"}}},
   {"transform":[{"filter":"datum.role==='channel'"}],"mark":{"type":"text","fontSize":5,"align":"left","baseline":"middle"},
    "encoding":{"x":{"datum":"name","type":"ordinal","scale":{"type":"point","padding":0,"domain":["field","check","g1","name","g2","button","spin","fieldEnd","unit","buttonEnd","g3"],"range":[5,45]},"axis":null},"text":{"field":"ch"},
    "color":{"field":"ch","type":"nominal","scale":{"domain":["AF3","F7","F3","FC5","T7","P7","O1","O2","P8","T8","FC6","F4","F8","AF4"],"range":["#e9b3cc","#55d0cc","#d65a5a","#404040","#e5a23c","#4848c4","#a97ad8","#a8585a","#a6dc3c","#e27b7b","#7fbdb4","#54bce4","#ecc045","#4f9e4f"]},"legend":null}}}
  ]},
 {"bounds":"flush","spacing":7,
  "vconcat":[
   {"width":251,"height":1,"data":{"values":[{"a":1}]},"mark":{"type":"text","text":""},"encoding":{}},
   {"bounds":"flush","spacing":13,
    "vconcat":[
     {"width":251,"height":202,"view":{"stroke":"#b0b0b0"},"data":{"name":"eegB"},
      "transform":[{"fold":["AF3","F7","F3","FC5","T7","P7","O1","O2","P8","T8","FC6","F4","F8","AF4"],"as":["ch","v"]}],
      "mark":{"type":"line","strokeWidth":1.6,"clip":true,"opacity":0.92},
      "encoding":{
       "x":{"field":"x","type":"quantitative","scale":{"domain":[0,1280],"nice":false,"zero":false},"axis":{"title":null,"labels":false,"ticks":false,"domain":false,"grid":true,"values":[0,200,400,600,800,1000,1200],"gridColor":"#a8a8a8","gridWidth":1}},
       "y":{"field":"v","type":"quantitative","scale":{"domain":[0,2800],"nice":false,"zero":false},"axis":{"title":null,"labels":false,"domain":true,"domainColor":"#999999","grid":true,"values":[0,100,200,300,400,500,600,700,800,900,1000,1100,1200,1300,1400,1500,1600,1700,1800,1900,2000,2100,2200,2300,2400,2500,2600,2700,2800,560,1120,1680,2240],"gridColor":"#d2d2d2","gridOpacity":{"condition":{"test":"datum.value % 100 === 0","value":1},"value":0},"ticks":true,"tickSize":3,"tickColor":"#777777","tickOpacity":{"condition":{"test":"datum.value % 100 === 0","value":0},"value":1}}},
       "color":{"field":"ch","type":"nominal","scale":{"domain":["AF3","F7","F3","FC5","T7","P7","O1","O2","P8","T8","FC6","F4","F8","AF4"],"range":["#e9b3cc","#55d0cc","#d65a5a","#404040","#e5a23c","#4848c4","#a97ad8","#a8585a","#a6dc3c","#e27b7b","#7fbdb4","#54bce4","#ecc045","#4f9e4f"]},"legend":null}
      }},
     {"width":251,"height":29,"view":{"stroke":"#a8a8a8"},"data":{"name":"marker"},
      "mark":{"type":"line","strokeWidth":1.6,"color":"#9c4b4b"},
      "encoding":{
       "x":{"field":"x","type":"quantitative","scale":{"domain":[0,1280],"nice":false},"axis":{"title":"Sample","values":[0,200,400,600,800,1000,1200],"format":"d","grid":true,"gridColor":"#b5b5b5","labelFontSize":5,"labelColor":"#555555","labelFlush":false,"ticks":false,"domain":false,"labelPadding":2,"titleFontSize":5.5,"titleFontWeight":"bold","titleColor":"#333333","titlePadding":1}},
       "y":{"field":"m","type":"quantitative","scale":{"domain":[0,10]},"axis":{"title":"Marker","labels":false,"ticks":false,"grid":false,"domain":false,"titleFontSize":5,"titleFontWeight":"bold","titleColor":"#333333","titlePadding":1}}
      }}
    ]}
  ]}
 ]}
]
}
]
}
